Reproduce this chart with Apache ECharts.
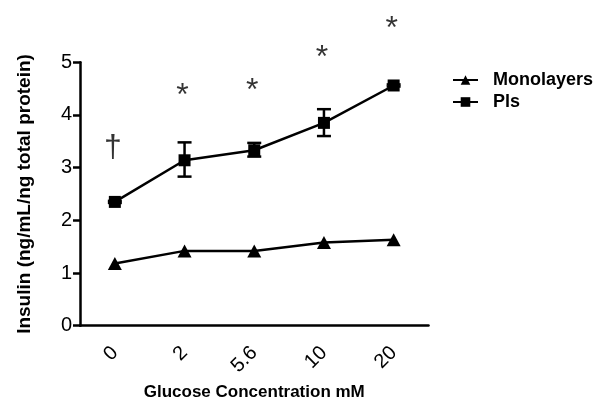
<!DOCTYPE html>
<html>
<head>
<meta charset="utf-8">
<script src="https://cdn.jsdelivr.net/npm/echarts@6/dist/echarts.min.js"></script>
<style>html,body{margin:0;padding:0;background:#fff;}#c{width:597px;height:402px;}</style>
</head>
<body>
<div id="c"></div>
<script>
const categories = ['0', '2', '5.6', '10', '20'];
const monolayers = [1.18, 1.42, 1.42, 1.58, 1.63];
const pls = [2.35, 3.14, 3.33, 3.85, 4.56];
const plsLow = [2.33, 2.83, 3.21, 3.60, 4.54];
const plsHigh = [2.37, 3.48, 3.47, 4.11, 4.58];
const marks = ['\u2020', '*', '*', '*', '*'];
const markY = [3.37, 4.35, 4.45, 5.08, 5.62];
const yTicks = [0, 1, 2, 3, 4, 5];

const tickFont = "'Liberation Sans Narrow', 'Liberation Sans', sans-serif";
const sans = "'Liberation Sans', Arial, sans-serif";

const chart = echarts.init(document.getElementById('c'), null, {renderer: 'canvas'});
chart.setOption({
  animation: false,
  backgroundColor: '#fff',
  grid: {left: 80, right: 168.5, top: 62.3, bottom: 76.3, containLabel: false, outerBoundsMode: 'none'},
  legend: {
    orient: 'vertical', left: 452, top: 71, padding: 0, itemWidth: 25, itemHeight: 12, itemGap: 4,
    textStyle: {fontFamily: sans, fontWeight: 'bold', fontSize: 18, color: '#000', padding: [0, 0, 0, 10]},
    data: ['Monolayers', 'Pls']
  },
  xAxis: {
    type: 'category', data: categories, boundaryGap: true,
    name: 'Glucose Concentration mM', nameLocation: 'middle', nameGap: 57,
    nameTextStyle: {fontFamily: sans, fontWeight: 'bold', fontSize: 17, color: '#000'},
    axisLine: {lineStyle: {color: '#000', width: 2.5}},
    axisTick: {alignWithLabel: true, length: 7, lineStyle: {color: '#000', width: 2.5}},
    axisLabel: {rotate: 45, fontFamily: tickFont, fontSize: 20, color: '#000', margin: 24}
  },
  yAxis: {
    type: 'value', min: 0, max: 5, interval: 1,
    name: 'Insulin (ng/mL/ng total protein)', nameLocation: 'middle', nameGap: 46,
    nameTextStyle: {fontFamily: sans, fontWeight: 'bold', fontSize: 19, color: '#000'},
    splitLine: {show: false},
    axisLine: {show: true, lineStyle: {color: '#000', width: 2.5}},
    axisTick: {show: true, length: 7, lineStyle: {color: '#000', width: 2.5}},
    axisLabel: {fontFamily: tickFont, fontSize: 20, color: '#000', margin: 8,
      formatter: v => yTicks.includes(v) ? String(v) : ''}
  },
  series: [
    {
      name: 'Monolayers', type: 'line', data: monolayers,
      symbol: 'triangle', symbolSize: [14, 13], color: '#000',
      lineStyle: {color: '#000', width: 2.5}, itemStyle: {color: '#000'}
    },
    {
      name: 'Pls', type: 'line', data: pls,
      symbol: 'rect', symbolSize: 12, color: '#000',
      lineStyle: {color: '#000', width: 2.5}, itemStyle: {color: '#000'}
    },
    {
      name: 'err', type: 'custom', z: 5,
      data: categories.map((c, i) => [i, plsLow[i], plsHigh[i]]),
      renderItem: function (params, api) {
        const x = api.value(0);
        const lo = api.coord([x, api.value(1)]);
        const hi = api.coord([x, api.value(2)]);
        const w = 7;
        const st = {stroke: '#000', lineWidth: 2.5};
        return {type: 'group', children: [
          {type: 'line', shape: {x1: lo[0], y1: lo[1], x2: hi[0], y2: hi[1]}, style: st},
          {type: 'line', shape: {x1: lo[0] - w, y1: lo[1], x2: lo[0] + w, y2: lo[1]}, style: st},
          {type: 'line', shape: {x1: hi[0] - w, y1: hi[1], x2: hi[0] + w, y2: hi[1]}, style: st}
        ]};
      }
    },
    {
      name: 'sig', type: 'scatter', symbolSize: 0, clip: false, z: 6,
      data: categories.map((c, i) => ({value: [i, markY[i]], label: {formatter: marks[i]}})),
      label: {show: true, position: 'inside', offset: [-2, 0], fontFamily: sans, fontSize: 32, color: '#000'}
    }
  ]
});
</script>
</body>
</html>
